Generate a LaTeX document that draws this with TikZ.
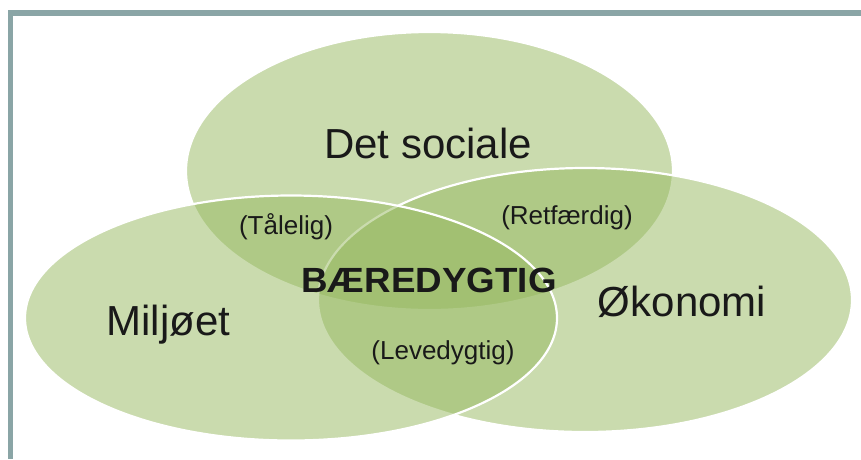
\documentclass[tikz,border=0pt]{standalone}
\usepackage{fontspec}
\setmainfont{Liberation Sans}
\usetikzlibrary{shapes.geometric}
\definecolor{leaf}{RGB}{150,185,95}
\definecolor{frameclr}{RGB}{138,165,166}
\definecolor{ink}{RGB}{25,25,25}
\tikzset{
  circ/.style={ellipse, inner sep=0pt, outer sep=0pt, fill=leaf, fill opacity=0.5,
    draw=white, draw opacity=1, line width=2.2pt},
  bigtxt/.style={anchor=base, inner sep=0pt, text=ink, font=\fontsize{42}{48}\selectfont},
  smalltxt/.style={anchor=base, inner sep=0pt, text=ink, font=\fontsize{26}{30}\selectfont},
  midtxt/.style={anchor=base, inner sep=0pt, text=ink, font=\bfseries\fontsize{35}{40}\selectfont, xscale=1.05}
}
\begin{document}
\begin{tikzpicture}[x=1pt, y=-1pt]
\useasboundingbox (0,0) rectangle (861,459);
\fill[white] (0,0) rectangle (861,459);
% frame
\draw[frameclr, line width=6pt] (8,13) coordinate (fa) -- (861,13) coordinate (fb);
\draw[frameclr, line width=5.5pt] (10.5,10) coordinate (fc) -- (10.5,459) coordinate (fd);
% ellipses
\node[circ, minimum width=487pt, minimum height=278pt] (social) at (429.5,171) {};
\node[circ, minimum width=534pt, minimum height=264pt] (economy) at (585,300) {};
\node[circ, minimum width=532pt, minimum height=245pt] (environment) at (291,318) {};
% labels
\node[bigtxt] (tsocial) at (428,158) {Det sociale};
\node[bigtxt] (tenv) at (168.5,335) {Miljøet};
\node[bigtxt] (teco) at (682,316) {Økonomi};
\node[midtxt] (tcenter) at (429,292) {BÆREDYGTIG};
\node[smalltxt] (tbear) at (286,234) {(Tålelig)};
\node[smalltxt] (tequit) at (567,224) {(Retfærdig)};
\node[smalltxt] (tviab) at (443,359) {(Levedygtig)};
\end{tikzpicture}
\end{document}
